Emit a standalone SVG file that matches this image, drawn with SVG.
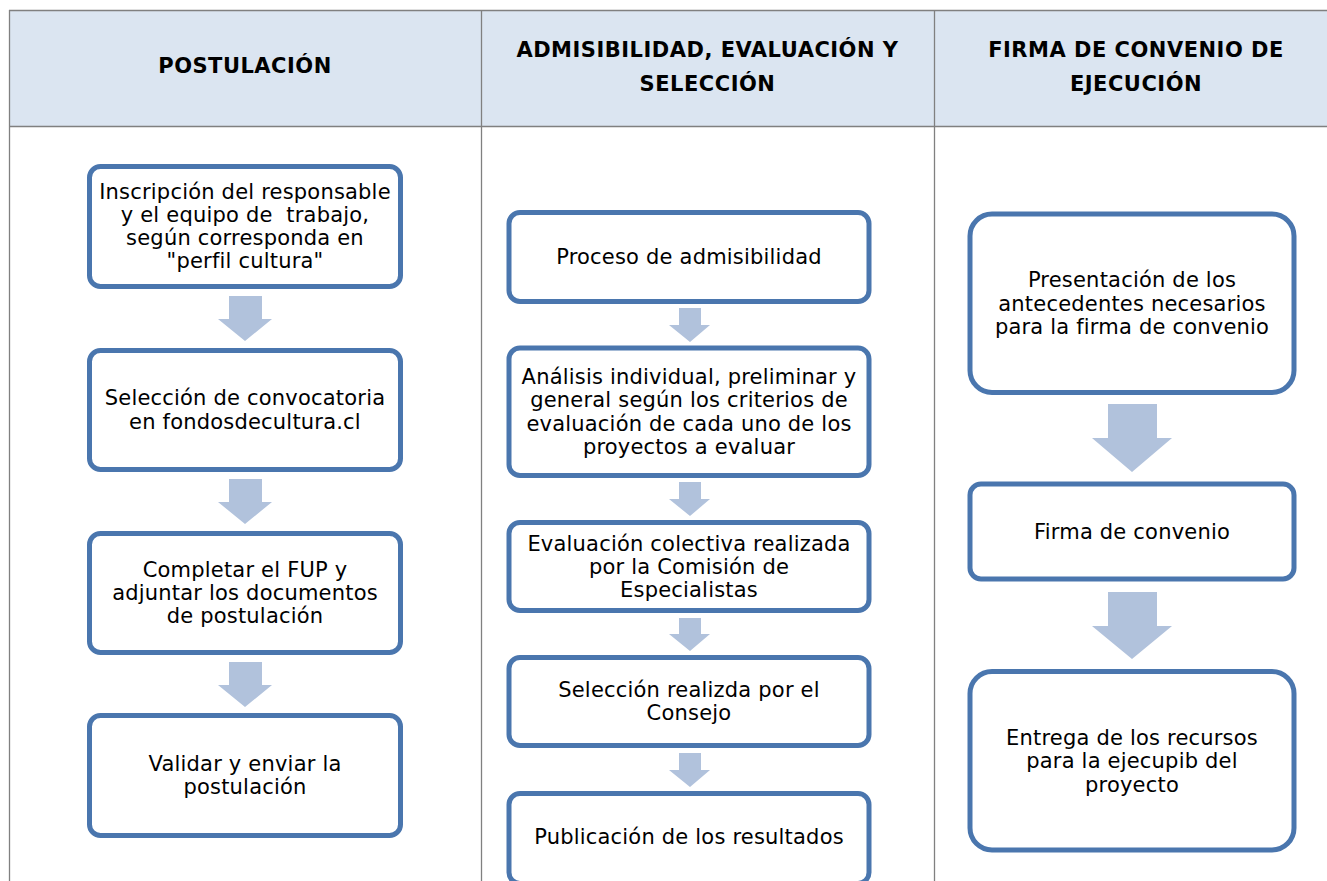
<svg xmlns="http://www.w3.org/2000/svg" width="1327" height="881" viewBox="0 0 1327 881">
<style>
.grid{stroke:#808080;stroke-width:1.3;fill:none}
.hdr{fill:#dbe5f1}
.box{fill:#ffffff;stroke:#4a76ae;stroke-width:5}
.arr{fill:#b1c2dc}
.h{font-family:"DejaVu Sans",Verdana,sans-serif;font-weight:bold;font-size:21px;letter-spacing:0.5px;fill:#000;text-anchor:middle}
.t{font-family:"DejaVu Sans",Verdana,sans-serif;font-size:21px;letter-spacing:0.2px;fill:#000;text-anchor:middle}
</style>
<rect width="1327" height="881" fill="#ffffff"/>
<g id="table">
<rect class="hdr" x="9.5" y="10.5" width="1330" height="116"/>
<line class="grid" x1="9" y1="10.5" x2="1327" y2="10.5"/>
<line class="grid" x1="9" y1="126.5" x2="1327" y2="126.5"/>
<line class="grid" x1="9.5" y1="10" x2="9.5" y2="881"/>
<line class="grid" x1="481.5" y1="10" x2="481.5" y2="881"/>
<line class="grid" x1="934.5" y1="10" x2="934.5" y2="881"/>
<text class="h" x="245" y="73.3">POSTULACIÓN</text>
<text class="h" x="707.5" y="57.3">ADMISIBILIDAD, EVALUACIÓN Y</text>
<text class="h" x="707.5" y="90.7">SELECCIÓN</text>
<text class="h" x="1136" y="57.3">FIRMA DE CONVENIO DE</text>
<text class="h" x="1136" y="90.7">EJECUCIÓN</text>
</g>
<g id="connectors">
<polygon class="arr" points="229,296 262,296 262,319 272,319 245,341 218,319 229,319"/>
<polygon class="arr" points="229,479 262,479 262,502 272,502 245,524 218,502 229,502"/>
<polygon class="arr" points="229,662 262,662 262,685 272,685 245,707 218,685 229,685"/>
<polygon class="arr" points="679,308 701,308 701,325 710,325 690,342 669,325 679,325"/>
<polygon class="arr" points="679,482 701,482 701,499 710,499 690,516 669,499 679,499"/>
<polygon class="arr" points="679,618 701,618 701,634 710,634 690,651 669,634 679,634"/>
<polygon class="arr" points="679,753 701,753 701,770 710,770 690,787 669,770 679,770"/>
<polygon class="arr" points="1108,404 1157,404 1157,438 1172,438 1132,472 1092,438 1108,438"/>
<polygon class="arr" points="1108,592 1157,592 1157,626 1172,626 1132,659 1092,626 1108,626"/>
</g>
<g id="n1">
<rect class="box" x="89.5" y="166.5" width="311" height="120" rx="11"/>
<text class="t" x="245" y="198.5">Inscripción del responsable</text>
<text class="t" x="245" y="221.8" xml:space="preserve">y el equipo de  trabajo,</text>
<text class="t" x="245" y="245.1">según corresponda en</text>
<text class="t" x="245" y="268.4">"perfil cultura"</text>
</g>
<g id="n2">
<rect class="box" x="89.5" y="350.5" width="311" height="119" rx="11"/>
<text class="t" x="245" y="405.4">Selección de convocatoria</text>
<text class="t" x="245" y="428.7">en fondosdecultura.cl</text>
</g>
<g id="n3">
<rect class="box" x="89.5" y="533.5" width="311" height="119" rx="11"/>
<text class="t" x="245" y="576.7">Completar el FUP y</text>
<text class="t" x="245" y="600">adjuntar los documentos</text>
<text class="t" x="245" y="623.3">de postulación</text>
</g>
<g id="n4">
<rect class="box" x="89.5" y="715.5" width="311" height="120" rx="11"/>
<text class="t" x="245" y="771">Validar y enviar la</text>
<text class="t" x="245" y="794.3">postulación</text>
</g>
<g id="n5">
<rect class="box" x="509" y="212.5" width="360" height="89" rx="11"/>
<text class="t" x="689" y="264">Proceso de admisibilidad</text>
</g>
<g id="n6">
<rect class="box" x="509" y="348" width="360" height="127.5" rx="11"/>
<text class="t" x="689" y="384">Análisis individual, preliminar y</text>
<text class="t" x="689" y="407.3">general según los criterios de</text>
<text class="t" x="689" y="430.6">evaluación de cada uno de los</text>
<text class="t" x="689" y="453.9">proyectos a evaluar</text>
</g>
<g id="n7">
<rect class="box" x="509" y="522.5" width="360" height="88" rx="11"/>
<text class="t" x="689" y="550.7">Evaluación colectiva realizada</text>
<text class="t" x="689" y="574">por la Comisión de</text>
<text class="t" x="689" y="597.3">Especialistas</text>
</g>
<g id="n8">
<rect class="box" x="509" y="657.5" width="360" height="88" rx="11"/>
<text class="t" x="689" y="696.8">Selección realizda por el</text>
<text class="t" x="689" y="720.1">Consejo</text>
</g>
<g id="n9">
<rect class="box" x="509" y="793.5" width="360" height="90" rx="11"/>
<text class="t" x="689" y="844.3">Publicación de los resultados</text>
</g>
<g id="n10">
<rect class="box" x="970" y="214" width="324" height="178.5" rx="22"/>
<text class="t" x="1132" y="287.3">Presentación de los</text>
<text class="t" x="1132" y="310.6">antecedentes necesarios</text>
<text class="t" x="1132" y="333.9">para la firma de convenio</text>
</g>
<g id="n11">
<rect class="box" x="970" y="484" width="324" height="95" rx="11"/>
<text class="t" x="1132" y="539">Firma de convenio</text>
</g>
<g id="n12">
<rect class="box" x="970" y="671.5" width="324" height="178.5" rx="22"/>
<text class="t" x="1132" y="745">Entrega de los recursos</text>
<text class="t" x="1132" y="768.3">para la ejecupib del</text>
<text class="t" x="1132" y="791.6">proyecto</text>
</g>
</svg>
